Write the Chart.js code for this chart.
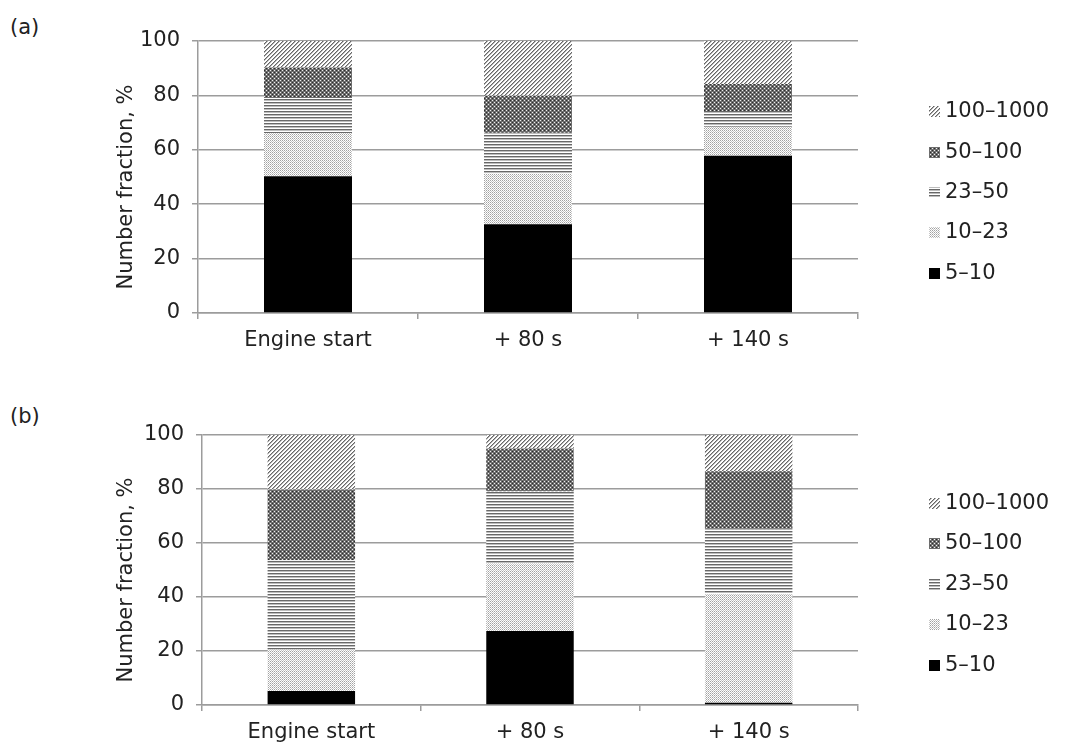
<!DOCTYPE html>
<html>
<head>
<meta charset="utf-8">
<title>Number fraction by size bin</title>
<script src="https://cdn.jsdelivr.net/npm/chart.js@4.4.1/dist/chart.umd.min.js"></script>
<style>
  html, body { margin: 0; padding: 0; background: #fff; overflow: hidden; }
  body { width: 1065px; height: 754px; position: relative; font-family: "DejaVu Sans", Verdana, sans-serif; color: #222; }
  .panel { position: absolute; left: 0; width: 1065px; }
  .tag { position: absolute; left: 10px; font-size: 21px; line-height: 24px; }
</style>
</head>
<body>
<div class="tag" style="top:15px">(a)</div>
<div class="panel" style="top:0;height:365px"><canvas id="chartA"></canvas></div>
<div class="tag" style="top:404px">(b)</div>
<div class="panel" style="top:393px;height:361px"><canvas id="chartB"></canvas></div>

<script>
// ---- data ---------------------------------------------------------------
var categories = ['Engine start', '+ 80 s', '+ 140 s'];
var sizeBins = ['5–10', '10–23', '23–50', '50–100', '100–1000'];
var yTicks = [0, 20, 40, 60, 80, 100];

// panel (a)
var a5to10     = [50.3, 32.6, 57.8];
var a10to23    = [15.9, 18.6, 10.7];
var a23to50    = [12.8, 15.1, 5.8];
var a50to100   = [11.3, 13.6, 9.9];
var a100to1000 = [9.7, 20.1, 15.8];

// panel (b)
var b5to10     = [5.2, 27.4, 0.8];
var b10to23    = [15.3, 25.0, 40.2];
var b23to50    = [33.1, 26.7, 24.3];
var b50to100   = [26.2, 15.9, 21.3];
var b100to1000 = [20.2, 5.0, 13.4];

// ---- patterns (office-style greyscale fills) ----------------------------
function tile(size, paint) {
  var c = document.createElement('canvas');
  c.width = c.height = size;
  var g = c.getContext('2d');
  g.fillStyle = '#fff';
  g.fillRect(0, 0, size, size);
  paint(g);
  return g.createPattern(c, 'repeat');
}
function px(g, x, y, col) { g.fillStyle = col; g.fillRect(x, y, 1, 1); }

var fills = [
  '#000',
  // light dots
  tile(2, function (g) { px(g, 0, 0, '#a2a2a2'); px(g, 1, 1, '#c6c6c6'); }),
  // horizontal lines
  tile(3, function (g) { g.fillStyle = '#686868'; g.fillRect(0, 0, 3, 1); g.fillStyle = '#bdbdbd'; g.fillRect(0, 1, 3, 1); }),
  // dark checker
  tile(4, function (g) {
    g.fillStyle = '#6e6e6e'; g.fillRect(0, 0, 4, 4);
    px(g, 0, 0, '#f0f0f0'); px(g, 2, 2, '#f0f0f0');
    px(g, 2, 0, '#2e2e2e'); px(g, 0, 2, '#2e2e2e');
  }),
  // light diagonals
  tile(4, function (g) {
    for (var x = 0; x < 4; x++) for (var y = 0; y < 4; y++) {
      if ((x + y) % 4 === 3) px(g, x, y, '#666');
      else if ((x + y) % 4 === 0) px(g, x, y, '#b0b0b0');
    }
  })
];

// legend drawn beside the plot, top entry = last dataset
var sideLegend = {
  id: 'sideLegend',
  afterDraw: function (chart, args, opts) {
    var ctx = chart.ctx;
    var sets = chart.data.datasets.slice().reverse();
    ctx.save();
    ctx.font = opts.font;
    ctx.textBaseline = 'middle';
    ctx.textAlign = 'left';
    sets.forEach(function (ds, i) {
      var cy = opts.y + i * opts.step;
      ctx.fillStyle = ds.backgroundColor;
      ctx.fillRect(opts.x, Math.round(cy - opts.box / 2), opts.box, opts.box);
      ctx.fillStyle = opts.color;
      ctx.fillText(ds.label, opts.x + opts.box + opts.gap, cy);
    });
    ctx.restore();
  }
};

var GRID = '#9c9c9c';
var INK = '#222';
var FONT = { family: '"DejaVu Sans", Verdana, sans-serif', size: 21 };

function makeChart(id, series, pad, legendY) {
  var datasets = series.map(function (vals, i) {
    return {
      label: sizeBins[i], data: vals, backgroundColor: fills[i],
      borderWidth: 0, barPercentage: 0.4, categoryPercentage: 1
    };
  });
  return new Chart(document.getElementById(id), {
    type: 'bar',
    data: { labels: categories, datasets: datasets },
    plugins: [sideLegend],
    options: {
      responsive: true, maintainAspectRatio: false, animation: false,
      layout: { padding: { left: 100, right: 207, top: pad.top, bottom: pad.bottom } },
      plugins: {
        legend: { display: false }, tooltip: { enabled: false },
        sideLegend: { x: 929, y: legendY, step: 40.4, box: 11, gap: 5, color: INK,
                      font: '21px "DejaVu Sans", Verdana, sans-serif' }
      },
      scales: {
        x: {
          stacked: true, offset: true,
          grid: { offset: true, drawOnChartArea: false, drawTicks: true, tickLength: 6, color: GRID, lineWidth: 1.5 },
          border: { color: GRID, width: 1.5 },
          ticks: { color: INK, font: FONT, padding: 9 },
          afterFit: function (s) { s.height = 40; }
        },
        y: {
          stacked: true, min: 0, max: 100,
          afterBuildTicks: function (s) { s.ticks = yTicks.map(function (v) { return { value: v }; }); },
          grid: { color: GRID, lineWidth: 1.5, drawTicks: true, tickLength: 6 },
          border: { color: GRID, width: 1.5 },
          ticks: { color: INK, font: FONT, padding: 12 },
          // trailing spaces nudge the centred title down a little, as in the original
          title: { display: true, text: 'Number fraction, %   ', color: INK, font: FONT, padding: { top: 14, bottom: 0 } },
          afterFit: function (s) { s.width = pad.axis; }
        }
      }
    }
  });
}

makeChart('chartA', [a5to10, a10to23, a23to50, a50to100, a100to1000], { top: 41, bottom: 12, axis: 98 }, 111.7);
makeChart('chartB', [b5to10, b10to23, b23to50, b50to100, b100to1000], { top: 42, bottom: 9, axis: 102 }, 110.5);
</script>
</body>
</html>
